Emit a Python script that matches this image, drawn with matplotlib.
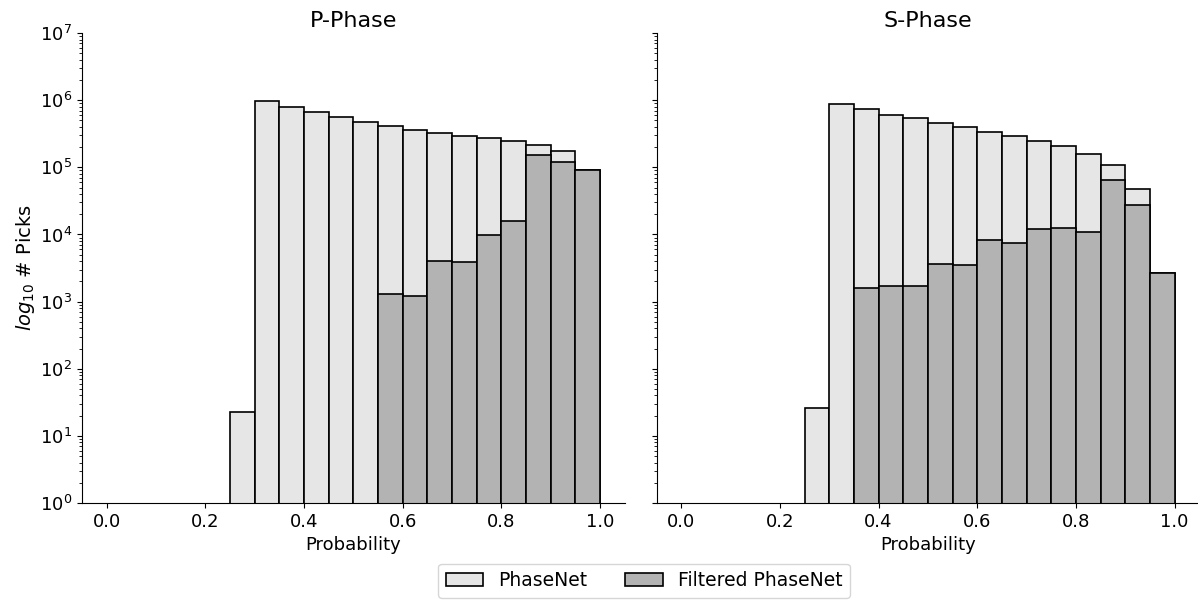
import numpy as np
from matplotlib import pyplot as plt

# bin edges of the probability histogram
bin_left = np.round(np.arange(0.25, 1.0, 0.05), 2)
bin_width = 0.05

# pick counts per bin
p_all = [23, 966000, 787000, 662000, 557000, 481000, 409000, 365000,
         322000, 297000, 275000, 250000, 213000, 173000, 90000]
p_filtered = [0, 0, 0, 0, 0, 0, 1290, 1205,
              4090, 3950, 9800, 16000, 151000, 122000, 90000]

s_all = [26, 863000, 735000, 605000, 546000, 460000, 401000, 341000,
         297000, 250000, 209000, 156000, 107000, 48000, 2650]
s_filtered = [0, 0, 1620, 1695, 1715, 3690, 3530, 8250,
              7350, 12000, 12500, 10900, 64000, 27700, 2650]

titles = ["P-Phase", "S-Phase"]
light = "#e6e6e6"
dark = "#b3b3b3"

plt.rcParams['font.size'] = 13

fig = plt.figure(figsize=(11.98, 6.01), dpi=100)
ax1 = fig.add_axes([0.0684, 0.163, 0.453, 0.782])
ax2 = fig.add_axes([0.548, 0.163, 0.453, 0.782], sharey=ax1)

for ax, allv, filt, title in [(ax1, p_all, p_filtered, titles[0]),
                              (ax2, s_all, s_filtered, titles[1])]:
    filt = np.array(filt, dtype=float)
    filt[filt == 0] = np.nan
    ax.bar(bin_left, allv, width=bin_width, align='edge', color=light,
           edgecolor='black', linewidth=1.2, label='PhaseNet')
    ax.bar(bin_left, filt, width=bin_width, align='edge', color=dark,
           edgecolor='black', linewidth=1.2, label='Filtered PhaseNet')
    ax.set_yscale('log')
    ax.set_ylim(1, 1e7)
    ax.set_xlim(-0.05, 1.05)
    ax.set_xticks([0.0, 0.2, 0.4, 0.6, 0.8, 1.0])
    ax.set_xlabel("Probability")
    ax.set_title(title, fontsize=16, pad=4)
    ax.spines['top'].set_visible(False)
    ax.spines['right'].set_visible(False)

ax1.set_ylabel("$log_{10}$ # Picks", fontsize=14, labelpad=2)
ax2.tick_params(labelleft=False)

handles, labels = ax1.get_legend_handles_labels()
fig.legend(handles, labels, loc='lower center', ncol=2, fontsize=13.5,
           bbox_to_anchor=(0.5376, -0.01))

fig.savefig("out.png", dpi=100)
